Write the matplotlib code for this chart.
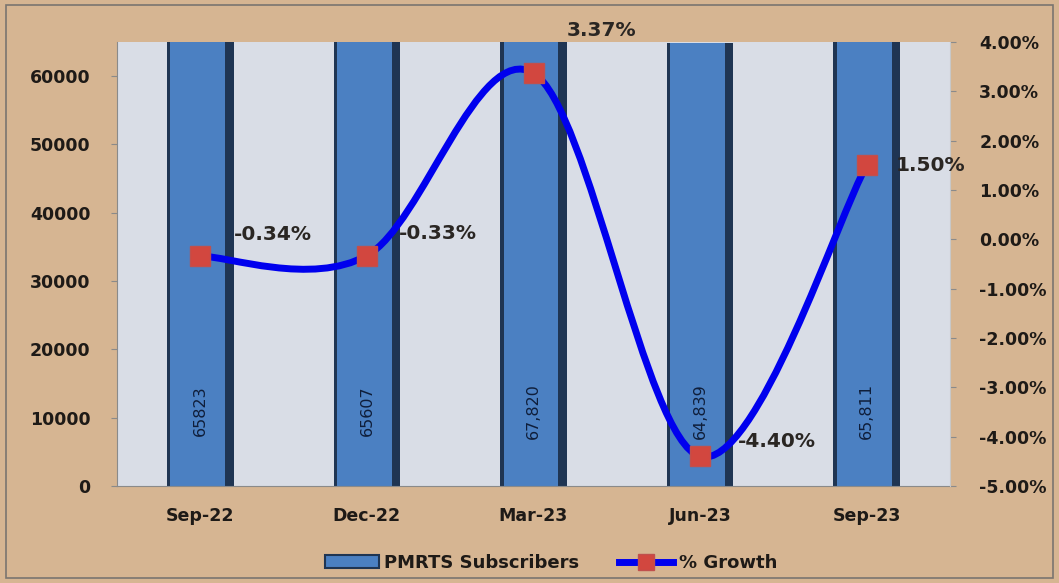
import matplotlib
matplotlib.use("Agg")
import matplotlib.pyplot as plt
import numpy as np
from matplotlib.path import Path
from matplotlib.patches import PathPatch, Rectangle
from matplotlib.lines import Line2D
from matplotlib.patches import Patch

categories = ["Sep-22", "Dec-22", "Mar-23", "Jun-23", "Sep-23"]
subscribers = [65823, 65607, 67820, 64839, 65811]
subscriber_labels = ["65823", "65607", "67,820", "64,839", "65,811"]
growth = [-0.34, -0.33, 3.37, -4.40, 1.50]
growth_labels = ["-0.34%", "-0.33%", "3.37%", "-4.40%", "1.50%"]
left_ticks = [0, 10000, 20000, 30000, 40000, 50000, 60000]
right_ticks = [-5, -4, -3, -2, -1, 0, 1, 2, 3, 4]

BG = "#d6b592"
PLOT_BG = "#d9dde6"
TXT = "#1e1a17"
FONT = "DejaVu Sans"

fig = plt.figure(figsize=(10.59, 5.83), dpi=100)
fig.patch.set_facecolor(BG)
fig.patches.append(Rectangle((0.006, 0.009), 0.988, 0.982, transform=fig.transFigure,
                             fill=False, edgecolor="#7a7570", linewidth=1.2))

ax = fig.add_axes([117/1059, 1-486/583, (950-117)/1059, (486-42)/583])
ax.set_facecolor(PLOT_BG)
x = np.arange(len(categories))

# bars: dark shell then lighter body
ax.bar(x, subscribers, width=0.40, color="#1f3553", zorder=2)
ax.bar(x - 0.015, subscribers, width=0.33, color="#4b80c2", zorder=2)
for xi, lab in zip(x, subscriber_labels):
    ax.text(xi, 11000, lab, rotation=90, ha="center", va="center",
            fontsize=11.5, color="#0f1e3a", family=FONT, zorder=3)

ax.set_xlim(-0.5, len(categories) - 0.5)
ax.set_ylim(0, 65000)
ax.set_yticks(left_ticks)
ax.set_yticklabels([str(t) for t in left_ticks], fontsize=12.5, fontweight="bold",
                   color=TXT, family=FONT)
ax.set_xticks(x)
ax.set_xticklabels(categories, fontsize=12.5, fontweight="bold", color=TXT, family=FONT)
ax.tick_params(axis="x", length=0, pad=15)
ax.tick_params(axis="y", length=4, color="#8a8a8a", pad=15)
for s in ["top", "right"]:
    ax.spines[s].set_visible(False)
ax.spines["left"].set_color("#8a8a8a")
ax.spines["bottom"].set_color("#8a8a8a")

ax2 = ax.twinx()
ax2.set_ylim(-5, 4)
ax2.set_yticks(right_ticks)
ax2.set_yticklabels([f"{t:.2f}%" for t in right_ticks], fontsize=12.5, fontweight="bold",
                    color=TXT, family=FONT)
ax2.tick_params(axis="y", length=4, color="#8a8a8a", pad=17)
for s in ["top", "left", "bottom"]:
    ax2.spines[s].set_visible(False)
ax2.spines["right"].set_color("#c8c8c8")

# smoothed line (Excel-like Catmull-Rom bezier through the points)
pts = np.column_stack([x, growth]).astype(float)
verts = [tuple(pts[0])]
codes = [Path.MOVETO]
n = len(pts)
for i in range(n - 1):
    p0 = pts[i - 1] if i > 0 else pts[i]
    p1 = pts[i]
    p2 = pts[i + 1]
    p3 = pts[i + 2] if i + 2 < n else pts[i + 1]
    c1 = p1 + (p2 - p0) / 6.0
    c2 = p2 - (p3 - p1) / 6.0
    verts += [tuple(c1), tuple(c2), tuple(p2)]
    codes += [Path.CURVE4] * 3
ax2.add_patch(PathPatch(Path(verts, codes), fill=False, edgecolor="#0000ee",
                        linewidth=5, capstyle="round", zorder=4, clip_on=False))
ax2.plot(x, growth, linestyle="none", marker="s", markersize=15,
         markerfacecolor="#d2473f", markeredgecolor="#c0504d", zorder=5, clip_on=False)

offsets = [(34, 22), (32, 22), (68, 43), (38, 15), (29, 0)]
for xi, g, lab, off in zip(x, growth, growth_labels, offsets):
    ha = "center" if xi == 2 else "left"
    ax2.annotate(lab, (xi, g), xytext=off,
                 textcoords="offset pixels", ha=ha, va="center", fontsize=14.5,
                 fontweight="bold", color="#2a2623", family=FONT, zorder=6,
                 annotation_clip=False)

handles = [Patch(facecolor="#4b80c2", edgecolor="#1f3553", linewidth=1.5),
           Line2D([0], [0], color="#0000ee", linewidth=5, marker="s", markersize=12,
                  markerfacecolor="#d2473f", markeredgecolor="#c0504d")]
leg = fig.legend(handles, ["PMRTS Subscribers", "% Growth"], loc="center",
                 bbox_to_anchor=(551/1059, 1 - 563/583), ncol=2, frameon=False,
                 prop={"family": FONT, "weight": "bold", "size": 13},
                 handlelength=3.0, handletextpad=0.3, columnspacing=2.2)
for t in leg.get_texts():
    t.set_color(TXT)

fig.savefig("out.png", dpi=100, facecolor=BG)
